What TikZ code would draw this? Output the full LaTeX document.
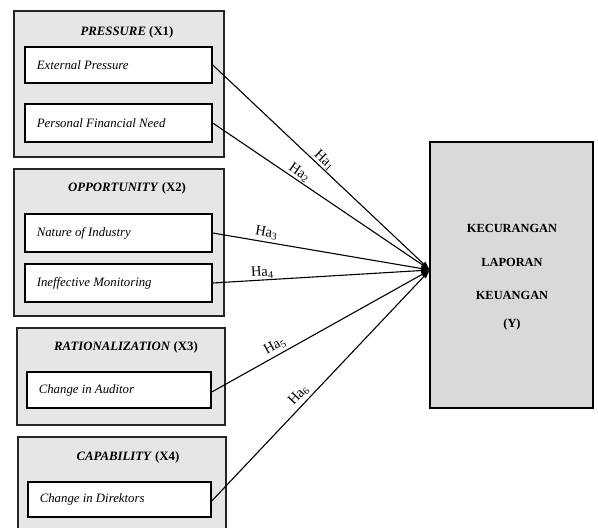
\documentclass[tikz,border=0pt]{standalone}
\usepackage{fontspec}
\setmainfont{Liberation Serif}
\usetikzlibrary{arrows.meta}
\definecolor{outerfill}{HTML}{E6E6E6}
\definecolor{rightfill}{HTML}{D9D9D9}
\begin{document}
\begin{tikzpicture}[x=1pt,y=-1pt,
  outerbox/.style={draw=black!85,line width=1.1pt,fill=outerfill,inner sep=0pt},
  innerbox/.style={draw=black,line width=1.5pt,fill=white,inner sep=0pt},
  itemtext/.style={font=\fontsize{12.8}{14}\selectfont\itshape,anchor=west},
  titletext/.style={font=\fontsize{12.8}{14}\selectfont\bfseries},
  ytext/.style={font=\fontsize{12.4}{14}\selectfont\bfseries},
  link/.style={line width=1.1pt,-{Latex[length=9pt,width=6pt]}},
  hlabel/.style={font=\fontsize{14.5}{16}\selectfont,sloped,above,inner sep=1pt}]
\useasboundingbox (0,0) rectangle (598,528);
\clip (0,0) rectangle (598,528);
% outer groups
\node[outerbox,minimum width=210pt,minimum height=146pt] (g1) at (119,84) {};
\node[outerbox,minimum width=210pt,minimum height=147pt] (g2) at (119,242.5) {};
\node[outerbox,minimum width=208pt,minimum height=97pt] (g3) at (121,376.5) {};
\node[outerbox,minimum width=208pt,minimum height=103pt] (g4) at (122,488.5) {};
% titles
\node[titletext] (t1) at (127,32) {\textit{PRESSURE} (X1)};
\node[titletext] (t2) at (127,188) {\textit{OPPORTUNITY} (X2)};
\node[titletext] (t3) at (126,347) {\textit{RATIONALIZATION} (X3)};
\node[titletext] (t4) at (128,457) {\textit{CAPABILITY} (X4)};
% inner boxes
\node[innerbox,minimum width=187pt,minimum height=36pt] (ep) at (118.5,65) {};
\node[innerbox,minimum width=187pt,minimum height=38pt] (pf) at (118.5,123) {};
\node[innerbox,minimum width=187pt,minimum height=38pt] (ni) at (118.5,233) {};
\node[innerbox,minimum width=187pt,minimum height=38pt] (im) at (118.5,283) {};
\node[innerbox,minimum width=184pt,minimum height=36pt] (ca) at (119,390) {};
\node[innerbox,minimum width=183pt,minimum height=35pt] (cd) at (119.5,499.5) {};
\node[itemtext] (epl) at ([xshift=9pt]ep.west) {External Pressure};
\node[itemtext] (pfl) at ([xshift=9pt]pf.west) {Personal Financial Need};
\node[itemtext] (nil) at ([xshift=9pt]ni.west) {Nature of Industry};
\node[itemtext] (iml) at ([xshift=9pt]im.west) {Ineffective Monitoring};
\node[itemtext] (cal) at ([xshift=9pt]ca.west) {Change in Auditor};
\node[itemtext] (cdl) at ([xshift=9pt]cd.west) {Change in Direktors};
% right box
\node[draw=black,line width=1.3pt,fill=rightfill,minimum width=163pt,minimum height=266pt] (Y) at (511.5,275) {};
\node[ytext] (k1) at (512,228) {KECURANGAN};
\node[ytext] (k2) at (512,262) {LAPORAN};
\node[ytext] (k3) at (512,295) {KEUANGAN};
\node[ytext] (k4) at (512,325) {(Y)};
\coordinate (tip) at (430,270);
% connectors
\draw[link] (ep.east) -- node[hlabel,pos=0.49] {Ha\textsubscript{1}} (tip);
\draw[link] (pf.east) -- node[hlabel,pos=0.38] {Ha\textsubscript{2}} (tip);
\draw[link] (ni.east) -- node[hlabel,pos=0.24,inner sep=3pt] {Ha\textsubscript{3}} (tip);
\draw[link] (im.east) -- node[hlabel,pos=0.23] {Ha\textsubscript{4}} (tip);
\draw[link] ([yshift=-2pt]ca.east) -- node[hlabel,pos=0.31,inner sep=3pt] {Ha\textsubscript{5}} (tip);
\draw[link] ([yshift=-1.5pt]cd.east) -- node[hlabel,pos=0.43,inner sep=3pt] {Ha\textsubscript{6}} (tip);
\end{tikzpicture}
\end{document}
